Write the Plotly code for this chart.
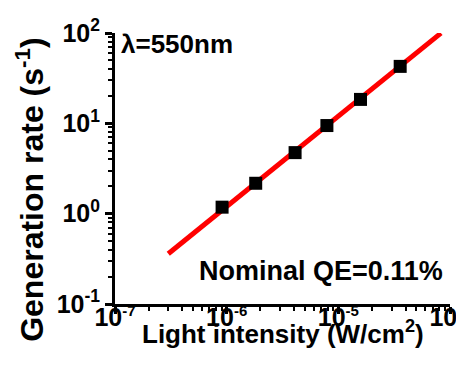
import plotly.graph_objects as go

intensity = [9.1e-7, 1.82e-6, 4.1e-6, 7.9e-6, 1.58e-5, 3.58e-5]
gen_rate = [1.18, 2.17, 4.74, 9.45, 18.4, 42.7]
fit_x = [3.0e-7, 8.3e-5]
fit_y = [0.36, 99.6]

x_tickvals = [1e-7, 1e-6, 1e-5, 1e-4]
x_exponents = ["-7", "-6", "-5", "-4"]
y_tickvals = [0.1, 1, 10, 100]
y_exponents = ["-1", "0", "1", "2"]

x_ticktext = ["10<sup><span style='font-size:15px'>%s</span></sup>" % e for e in x_exponents]
y_ticktext = ["10<sup>%s</sup>" % e for e in y_exponents]

FONT = "Liberation Sans, Arial, sans-serif"

fig = go.Figure()
fig.add_trace(go.Scatter(x=fit_x, y=fit_y, mode="lines",
                         line=dict(color="#ff0000", width=5), showlegend=False))
fig.add_trace(go.Scatter(x=intensity, y=gen_rate, mode="markers",
                         marker=dict(symbol="square", size=13, color="black"),
                         showlegend=False))

axis_common = dict(
    type="log", showgrid=False, zeroline=False, automargin=False,
    showline=True, linecolor="black", linewidth=3,
    ticks="outside", ticklen=7, tickwidth=2.5, tickcolor="black",
    tickfont=dict(family=FONT, size=25, color="black", weight="bold"),
    ticklabeloverflow="allow",
    minor=dict(ticks="outside", ticklen=4, tickwidth=1.5, tickcolor="black", dtick="D1", showgrid=False),
)

fig.update_xaxes(**axis_common, range=[-7, -4], tickvals=x_tickvals, ticktext=x_ticktext,
                 ticklabelstandoff=-18)
fig.update_yaxes(**axis_common, range=[-1, 2], tickvals=y_tickvals, ticktext=y_ticktext)

fig.add_annotation(x=0.5, y=-0.105, xref="paper", yref="paper", xanchor="center", yanchor="middle",
                   text="Light intensity (W/cm<sup>2</sup>)", showarrow=False,
                   font=dict(family=FONT, size=26, color="black", weight="bold"))
fig.add_annotation(x=-0.254, y=0.421, xref="paper", yref="paper", xanchor="center", yanchor="middle",
                   text="Generation rate (s<sup>-1</sup>)", showarrow=False, textangle=-90,
                   font=dict(family=FONT, size=32, color="black", weight="bold"))

fig.add_annotation(x=0.012, y=0.959, xref="paper", yref="paper", xanchor="left", yanchor="middle",
                   text="λ=550nm", showarrow=False,
                   font=dict(family=FONT, size=26, color="black", weight="bold"))
fig.add_annotation(x=0.985, y=0.12, xref="paper", yref="paper", xanchor="right", yanchor="middle",
                   text="Nominal QE=0.11%", showarrow=False,
                   font=dict(family=FONT, size=27, color="black", weight="bold"))

fig.update_layout(width=464, height=372, margin=dict(l=107, r=22, t=25, b=76),
                  plot_bgcolor="white", paper_bgcolor="white")

fig.write_html("out.html")
